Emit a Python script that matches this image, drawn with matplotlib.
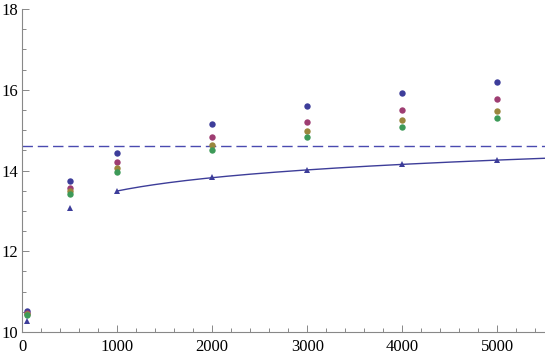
import numpy as np
import matplotlib.pyplot as plt
from matplotlib.ticker import MultipleLocator

# sample sizes and the values
n = [50, 500, 1000, 2000, 3000, 4000, 5000]
blue = [10.52, 13.73, 14.43, 15.14, 15.59, 15.93, 16.20]
red = [10.47, 13.57, 14.20, 14.82, 15.21, 15.51, 15.76]
gold = [10.45, 13.50, 14.07, 14.63, 14.99, 15.26, 15.48]
green = [10.42, 13.42, 13.96, 14.50, 14.83, 15.08, 15.29]
tri = [10.28, 13.07, 13.49, 13.83, 14.01, 14.15, 14.26]
limit = 14.6

plt.rcParams['font.family'] = ['Liberation Serif', 'DejaVu Serif']

fig = plt.figure(figsize=(5.45, 3.56), dpi=100)
ax = fig.add_axes([0.0404, 0.0674, 0.9596, 0.9073])

# log fit through the triangles from 1000 on
coef = np.polyfit(np.log(n[2:]), tri[2:], 1)
xs = np.linspace(1000, 5500, 200)
ax.plot(xs, np.polyval(coef, np.log(xs)), color='#3d3d99', lw=1.0)

ax.axhline(limit, color='#4a4ab0', lw=1.0, ls=(0, (7.5, 3.5)))

ms = 4.6
ax.plot(n, blue, 'o', color='#3d3d9a', ms=ms, mew=0)
ax.plot(n, red, 'o', color='#9e3d72', ms=ms, mew=0)
ax.plot(n, gold, 'o', color='#9a863d', ms=ms, mew=0)
ax.plot(n, green, 'o', color='#3d9a58', ms=ms, mew=0)
ax.plot(n, tri, '^', color='#3d3d9a', ms=ms, mew=0)

ax.set_xlim(0, 5500)
ax.set_ylim(10, 18)
ax.xaxis.set_major_locator(MultipleLocator(1000))
ax.xaxis.set_minor_locator(MultipleLocator(200))
ax.yaxis.set_major_locator(MultipleLocator(2))
ax.yaxis.set_minor_locator(MultipleLocator(0.5))

for s in ['top', 'right']:
    ax.spines[s].set_visible(False)
for s in ['left', 'bottom']:
    ax.spines[s].set_color('#888888')
    ax.spines[s].set_linewidth(0.8)
ax.tick_params(which='both', direction='in', color='#888888', labelsize=12, width=0.7)
ax.tick_params(which='major', length=5)
ax.tick_params(which='minor', length=3)
ax.tick_params(axis='x', which='major', pad=5)
ax.tick_params(axis='y', which='major', pad=3)
for lab in ax.get_xticklabels() + ax.get_yticklabels():
    lab.set_clip_on(False)

fig.savefig('out.png', dpi=100)
